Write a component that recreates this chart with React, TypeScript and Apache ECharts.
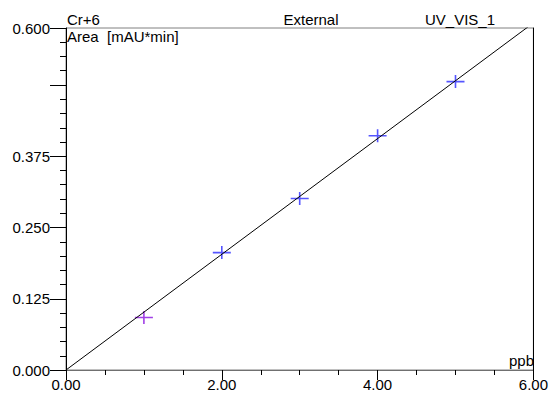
import React, { useEffect, useRef } from "react";
import * as echarts from "echarts";

const pointX = [1, 2, 3, 4, 5];
const pointY = [0.092, 0.206, 0.301, 0.411, 0.506];
const pointColors = ["#8a10e0", "#2a2aff", "#2a2aff", "#2a2aff", "#2a2aff"];
const lineX = [0, 6];
const lineY = [0, 0.609];
const yLabels = [0, 0.125, 0.25, 0.375, 0.6];
const xLabels = [0, 2, 4, 6];
const headerLeft = "Cr+6";
const headerMid = "External";
const headerRight = "UV_VIS_1";
const yTitle = "Area  [mAU*min]";
const xTitle = "ppb";

const FONT = "Liberation Sans, Arial, sans-serif";
const CROSS = "path://M0,5.7H18V7.3H0Z M8.2,0H9.8V13H8.2Z";

export default function App() {
  const ref = useRef<HTMLDivElement>(null);
  useEffect(() => {
    document.body.style.margin = "0";
    const chart = echarts.init(ref.current!, null, { renderer: "svg" });
    const near = (v: number, list: number[]) => list.some((x) => Math.abs(x - v) < 1e-6);
    chart.setOption({
      animation: false,
      backgroundColor: "#ffffff",
      grid: {
        left: 66,
        right: 16,
        top: 28,
        bottom: 27,
        show: true,
        borderColor: "#808080",
        borderWidth: 1,
        backgroundColor: "transparent",
      },
      xAxis: [
        {
          type: "value",
          min: 0,
          max: 6,
          interval: 0.5,
          position: "bottom",
          axisLine: { show: true, onZero: false, lineStyle: { color: "#707070", width: 1 } },
          axisTick: { show: true, length: 5, lineStyle: { color: "#000" } },
          splitLine: { show: false },
          axisLabel: {
            show: true,
            margin: 7,
            fontSize: 15,
            fontFamily: FONT,
            color: "#000",
            formatter: (v: number) => (near(v, xLabels) ? v.toFixed(2) : ""),
          },
        },
        {
          type: "value",
          min: 0,
          max: 6,
          interval: 2,
          position: "bottom",
          axisLine: { show: false },
          axisTick: { show: true, length: 10, lineStyle: { color: "#000" } },
          splitLine: { show: false },
          axisLabel: { show: false },
        },
      ],
      yAxis: [
        {
          type: "value",
          min: 0,
          max: 0.6,
          interval: 0.025,
          position: "left",
          axisLine: { show: true, onZero: false, lineStyle: { color: "#000", width: 1 } },
          axisTick: { show: true, length: 6, lineStyle: { color: "#000" } },
          splitLine: { show: false },
          axisLabel: {
            show: true,
            margin: 16,
            fontSize: 15,
            fontFamily: FONT,
            color: "#000",
            showMaxLabel: true,
            formatter: (v: number) => (near(v, yLabels) ? v.toFixed(3) : ""),
          },
        },
        {
          type: "value",
          min: 0,
          max: 0.6,
          interval: 0.125,
          position: "left",
          axisLine: { show: false },
          axisTick: { show: true, length: 16, lineStyle: { color: "#000" } },
          splitLine: { show: false },
          axisLabel: { show: false },
        },
        {
          type: "value",
          min: 0,
          max: 0.6,
          position: "right",
          axisLine: { show: true, onZero: false, lineStyle: { color: "#000", width: 1 } },
          axisTick: { show: false },
          splitLine: { show: false },
          axisLabel: { show: false },
        },
      ],
      series: [
        {
          type: "line",
          xAxisIndex: 0,
          yAxisIndex: 0,
          data: lineX.map((x, i) => [x, lineY[i]]),
          showSymbol: false,
          symbol: "none",
          clip: true,
          lineStyle: { color: "#000", width: 1 },
          silent: true,
        },
        {
          type: "scatter",
          xAxisIndex: 0,
          yAxisIndex: 0,
          symbol: CROSS,
          symbolSize: [18, 13],
          data: pointX.map((x, i) => ({
            value: [x, pointY[i]],
            itemStyle: { color: pointColors[i] },
          })),
        },
      ],
      graphic: [
        {
          type: "text",
          left: 67,
          top: 12,
          style: { text: headerLeft, fontSize: 15, fontFamily: FONT, fill: "#000" },
        },
        {
          type: "text",
          x: 311,
          y: 12,
          style: { text: headerMid, fontSize: 15, fontFamily: FONT, fill: "#000", align: "center" },
        },
        {
          type: "text",
          x: 460,
          y: 12,
          style: { text: headerRight, fontSize: 15, fontFamily: FONT, fill: "#000", align: "center" },
        },
        {
          type: "text",
          left: 67,
          top: 29,
          style: { text: yTitle, fontSize: 15, fontFamily: FONT, fill: "#000" },
        },
        {
          type: "text",
          x: 534,
          y: 353,
          style: { text: xTitle, fontSize: 15, fontFamily: FONT, fill: "#000", align: "right" },
        },
      ],
    });
    return () => chart.dispose();
  }, []);
  return <div ref={ref} style={{ width: 551, height: 397 }} />;
}
